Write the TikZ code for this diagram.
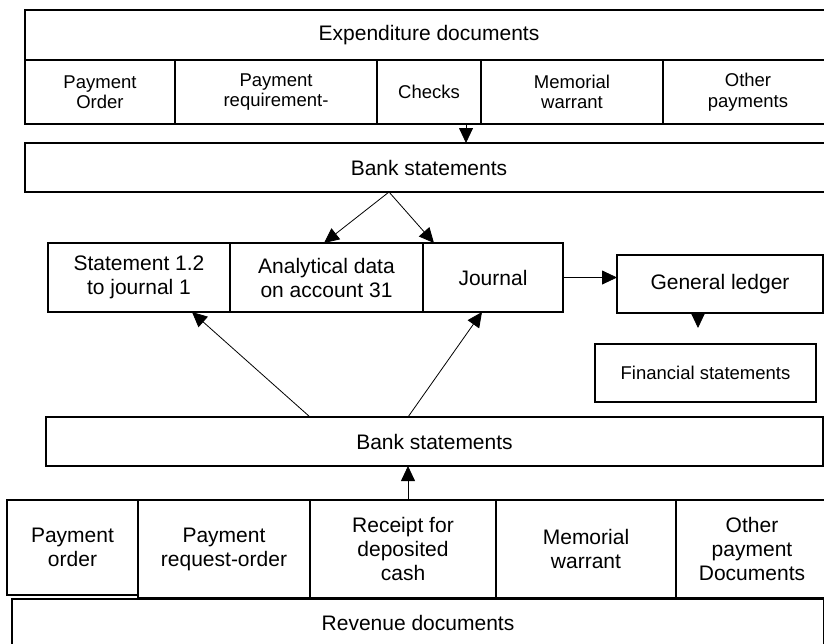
\documentclass[tikz,border=0pt]{standalone}
\usepackage{fontspec}
\setmainfont{Liberation Sans}
\usetikzlibrary{arrows.meta}
\begin{document}
\begin{tikzpicture}[x=1pt,y=-1pt,
 box/.style={draw, line width=2pt, rectangle, inner sep=0pt, outer sep=0pt, align=center, font=\fontsize{21}{24}\selectfont},
 small/.style={font=\fontsize{18.5}{20.5}\selectfont},
 arr/.style={line width=0.8pt, -{Triangle[length=15pt,width=14pt]}}]
\useasboundingbox (0,0) rectangle (824,643);
\clip (0,0) rectangle (824,643);
% expenditure
\node[box, minimum width=808pt, minimum height=50pt] (exp) at (429,35) {Expenditure documents};
\node[box, small, minimum width=150pt, minimum height=64pt] (e1) at (100,92) {Payment\\Order};
\node[box, small, minimum width=202pt, minimum height=64pt] (e2) at (276,92) {Payment\\requirement-};
\node[box, small, minimum width=104pt, minimum height=64pt] (e3) at (429,92) {Checks};
\node[box, small, minimum width=182pt, minimum height=64pt] (e4) at (572,92) {Memorial\\warrant};
\node[box, small, minimum width=170pt, minimum height=64pt] (e5) at (748,92) {Other\\payments};
% bank statements 1
\node[box, minimum width=808pt, minimum height=49pt] (bank1) at (429,167.5) {Bank statements};
% middle
\node[box, minimum width=182pt, minimum height=69pt] (st) at (139,277.5) {Statement 1.2\\to journal 1};
\node[box, minimum width=193pt, minimum height=69pt] (ana) at (326.5,277.5) {Analytical data\\on account 31};
\node[box, minimum width=140pt, minimum height=69pt] (jour) at (493,277.5) {Journal};
\node[box, minimum width=206pt, minimum height=58pt] (gl) at (720,284) {General ledger};
\node[box, small, minimum width=221pt, minimum height=58pt] (fin) at (705.5,373) {Financial statements};
% bank statements 2
\node[box, minimum width=777pt, minimum height=49pt] (bank2) at (434.5,441.5) {Bank statements};
% revenue row
\node[box, minimum width=131pt, minimum height=95pt] (r1) at (72.5,547.5) {Payment\\order};
\node[box, minimum width=172pt, minimum height=98pt] (r2) at (224,549) {Payment\\request-order};
\node[box, minimum width=186pt, minimum height=98pt] (r3) at (403,549) {Receipt for\\deposited\\cash};
\node[box, minimum width=180pt, minimum height=98pt] (r4) at (586,549) {Memorial\\warrant};
\node[box, minimum width=152pt, minimum height=98pt] (r5) at (752,549) {Other\\payment\\Documents};
\node[box, minimum width=812pt, minimum height=48pt] (rev) at (418,623) {Revenue documents};
% connectors
\coordinate (a1) at ([xshift=89pt]e3.south west);
\draw[arr] (a1) -- (a1 |- bank1.north);
\coordinate (b1s) at ([xshift=364pt]bank1.south west);
\draw[arr] (b1s) -- ([xshift=94pt]ana.north west);
\draw[arr] (b1s) -- ([xshift=11pt]jour.north west);
\draw[arr] (jour.east) -- (jour.east -| gl.west);
\coordinate (g1) at ([xshift=-22pt]gl.south);
\coordinate (g2) at ([xshift=-22pt,yshift=-15pt]gl.south);
\draw[arr] (g1) -- (g2);
\coordinate (b2a) at ([xshift=264pt]bank2.north west);
\coordinate (b2b) at ([xshift=362pt]bank2.north west);
\draw[arr] (b2a) -- ([xshift=144pt]st.south west);
\draw[arr] (b2b) -- ([xshift=59pt]jour.south west);
\coordinate (c3) at ([xshift=98pt]r3.north west);
\draw[arr] (c3) -- (c3 |- bank2.south);
\end{tikzpicture}
\end{document}
